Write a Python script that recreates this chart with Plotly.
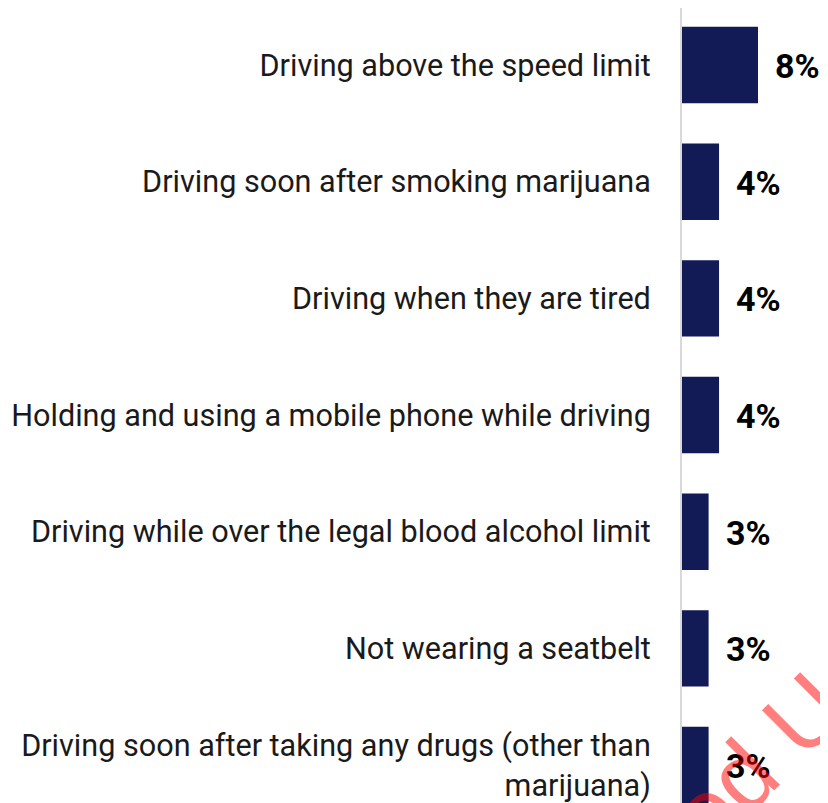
import plotly.graph_objects as go

categories = [
    "Driving above the speed limit",
    "Driving soon after smoking marijuana",
    "Driving when they are tired",
    "Holding and using a mobile phone while driving",
    "Driving while over the legal blood alcohol limit",
    "Not wearing a seatbelt",
    "Driving soon after taking any drugs (other than<br>marijuana)",
]
values = [8.0, 3.9, 3.9, 3.9, 2.8, 2.8, 2.8]
value_labels = ["8%", "4%", "4%", "4%", "3%", "3%", "3%"]

BAR_COLOR = "#131b56"
# page body has an 8px margin; figure sits at (8, 8)
OFF = 8
W, H = 828 - OFF, 803 - OFF
LEFT = 674
TOP = 0
PLOT_W = W - LEFT
PLOT_H = H - TOP

fig = go.Figure()
fig.add_trace(go.Bar(
    y=categories, x=values, orientation="h",
    marker=dict(color=BAR_COLOR, line=dict(width=0)),
    width=0.655, hoverinfo="skip",
))

for c, v, t in zip(categories, values, value_labels):
    fig.add_annotation(
        x=v, y=c, xref="x", yref="y", text=t, showarrow=False,
        xanchor="left", yanchor="middle", xshift=15, yshift=-1,
        font=dict(family="Roboto", size=34, color="#000000", weight="bold"),
    )

# watermark (page coordinates converted to paper coordinates)
wm_x, wm_y = 664, 854
fig.add_annotation(
    x=(wm_x - OFF - LEFT) / PLOT_W, y=(H + OFF - wm_y) / PLOT_H,
    xref="paper", yref="paper", text="Embargoed Until",
    showarrow=False, textangle=-45, xanchor="center", yanchor="middle",
    font=dict(family="Liberation Sans", size=95, color="rgba(255,0,0,0.5)"),
)

fig.update_layout(
    template="none",
    width=W, height=H,
    margin=dict(l=LEFT, r=0, t=TOP, b=0, pad=0, autoexpand=False),
    plot_bgcolor="white", paper_bgcolor="white",
    showlegend=False,
    xaxis=dict(range=[0, PLOT_W / 9.5], visible=False, fixedrange=True,
               automargin=False),
    yaxis=dict(
        categoryorder="array", categoryarray=categories,
        range=[6.325, -0.489], showgrid=False, zeroline=False,
        showline=True, linecolor="#d9d9d9", linewidth=2,
        ticks="", ticklabelstandoff=23, automargin=False,
        tickfont=dict(family="Roboto", size=30.6, color="#1a1a1a"),
        fixedrange=True,
    ),
)

fig.write_html("out.html")
